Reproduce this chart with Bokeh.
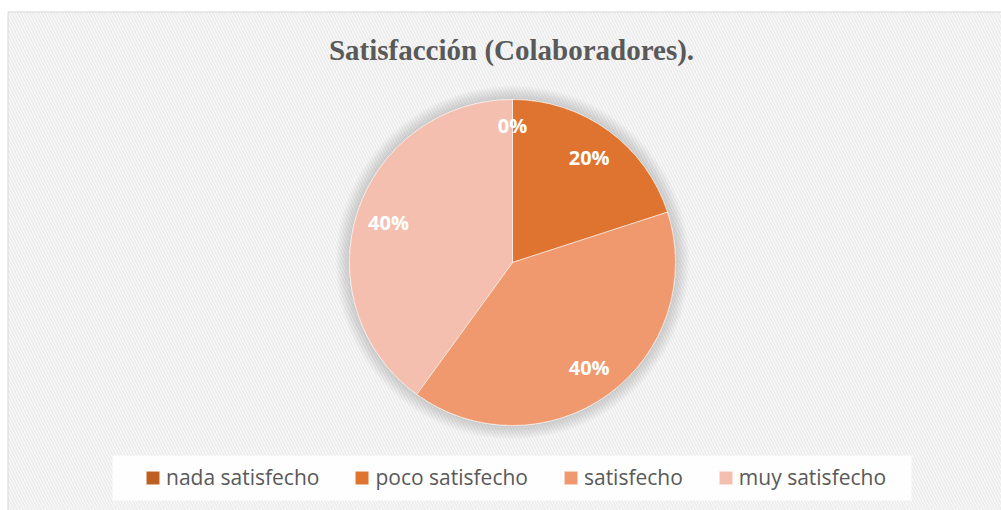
import math
from bokeh.plotting import figure
from bokeh.models import ColumnDataSource, Range1d, Legend, LegendItem
from bokeh.core.properties import value
from bokeh.embed import file_html
from bokeh.resources import INLINE

# ---- data ----
categories = ["nada satisfecho", "poco satisfecho", "satisfecho", "muy satisfecho"]
values = [0, 20, 40, 40]
colors = ["#BF5E22", "#DE7430", "#F0996F", "#F4BFAE"]
title_text = "Satisfacción (Colaboradores)."

W, H = 1001, 510
p = figure(width=W, height=H, output_backend="svg", toolbar_location=None,
           x_range=Range1d(0, W), y_range=Range1d(0, H),
           min_border=0, background_fill_color="white", border_fill_color="white")
p.axis.visible = False
p.grid.visible = False
p.outline_line_color = None

def py(page_y):
    return H - page_y

# chart area background with diagonal hatch
p.quad(left=7.5, right=1020, top=py(11.5), bottom=-10, fill_color="white",
       line_color="#D9D9D9", line_width=1,
       hatch_pattern="\\", hatch_color="#EDEDED", hatch_scale=6, hatch_weight=2)

# legend box
p.quad(left=112, right=911, top=py(455), bottom=py(500), fill_color="white",
       fill_alpha=0.85, line_color=None)

cx, cy, R = 512, py(262), 163

# soft shadow around pie
for k in range(14, 0, -1):
    p.circle(x=[cx], y=[cy], radius=R + k, fill_color="#7F7F7F", fill_alpha=0.024, line_color=None)

total = sum(values)
starts, ends, mids, labels = [], [], [], []
cum = 0.0
for v in values:
    frac = v / total
    s = math.pi / 2 - 2 * math.pi * cum
    e = math.pi / 2 - 2 * math.pi * (cum + frac)
    starts.append(s)
    ends.append(e)
    mids.append(math.pi / 2 - 2 * math.pi * (cum + frac / 2))
    labels.append(f"{round(frac * 100)}%")
    cum += frac

rl = [0.84 * R if v == 0 else 0.80 * R for v in values]
src = ColumnDataSource(dict(cat=categories, start=starts, end=ends, color=colors,
                            lx=[cx + r * math.cos(m) for r, m in zip(rl, mids)],
                            ly=[cy + r * math.sin(m) for r, m in zip(rl, mids)],
                            lab=labels))

wr = p.wedge(x=cx, y=cy, radius=R, start_angle="start", end_angle="end", direction="clock",
             fill_color="color", line_color="white", line_width=0.6, source=src)

p.text(x="lx", y="ly", text="lab", source=src, text_color="white",
       text_font=value("Open Sans"), text_font_style="bold", text_font_size="20px",
       text_align="center", text_baseline="middle")

p.text(x=[511], y=[py(49)], text=[title_text], text_color="#595959",
       text_font=value("Liberation Serif"), text_font_style="bold", text_font_size="29px",
       text_align="center", text_baseline="middle")

items = [LegendItem(label=c, renderers=[wr], index=i) for i, c in enumerate(categories)]
legend = Legend(items=items, orientation="horizontal", location=(144, 19),
                glyph_width=17, glyph_height=17, label_standoff=5, spacing=34,
                padding=0, margin=0, border_line_alpha=0, background_fill_alpha=0,
                label_text_font="Open Sans", label_text_font_size="21px",
                label_text_color="#595959", label_height=17)
p.add_layout(legend)

open("out.html", "w").write(file_html(p, INLINE))
